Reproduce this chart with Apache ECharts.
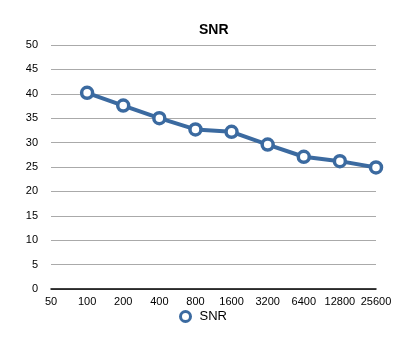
<!DOCTYPE html>
<html><head><meta charset="utf-8">
<script src="https://cdn.jsdelivr.net/npm/echarts@6/dist/echarts.min.js"></script>
<style>html,body{margin:0;padding:0;background:#fff}#c{width:419px;height:355px}</style>
</head><body><div id="c"></div>
<script>
const categories = ['50','100','200','400','800','1600','3200','6400','12800','25600'];
const snrValues = [null, 40.2, 37.6, 35.0, 32.7, 32.2, 29.6, 27.1, 26.2, 24.9];
const yTicks = {min: 0, max: 50, interval: 5};
const chart = echarts.init(document.getElementById('c'));
const font = '"Liberation Sans", Arial, sans-serif';
const blue = '#3b6aa0';
chart.setOption({
  animation: false,
  title: {text: 'SNR', left: 194, top: 18, textStyle: {fontFamily: font, fontSize: 14, fontWeight: 'bold', color: '#000'}},
  grid: {left: 51, right: 43, top: 45, bottom: 66},
  legend: {data: [{name: 'SNR', icon: 'circle', itemStyle: {color: '#fff', borderColor: blue, borderWidth: 3}}],
    bottom: 27, left: 174, itemWidth: 10, itemHeight: 10, itemGap: 6,
    textStyle: {fontFamily: font, fontSize: 13, color: '#000', padding: [0, 0, 0, 4]}},
  xAxis: {type: 'category', data: categories, boundaryGap: false,
    axisLine: {lineStyle: {color: '#000', width: 1.5}}, axisTick: {show: false},
    axisLabel: {fontFamily: font, fontSize: 11, color: '#000', margin: 7, interval: 0},
    splitLine: {show: false}},
  yAxis: {type: 'value', min: yTicks.min, max: yTicks.max, interval: yTicks.interval,
    axisLine: {show: false}, axisTick: {show: false},
    axisLabel: {fontFamily: font, fontSize: 11, color: '#000', margin: 13},
    splitLine: {lineStyle: {color: '#aaa', width: 1}}},
  series: [{name: 'SNR', type: 'line', data: snrValues, connectNulls: false,
    symbol: 'circle', symbolSize: 11,
    lineStyle: {color: blue, width: 4},
    itemStyle: {color: '#fff', borderColor: blue, borderWidth: 3.5}}]
});
</script></body></html>
